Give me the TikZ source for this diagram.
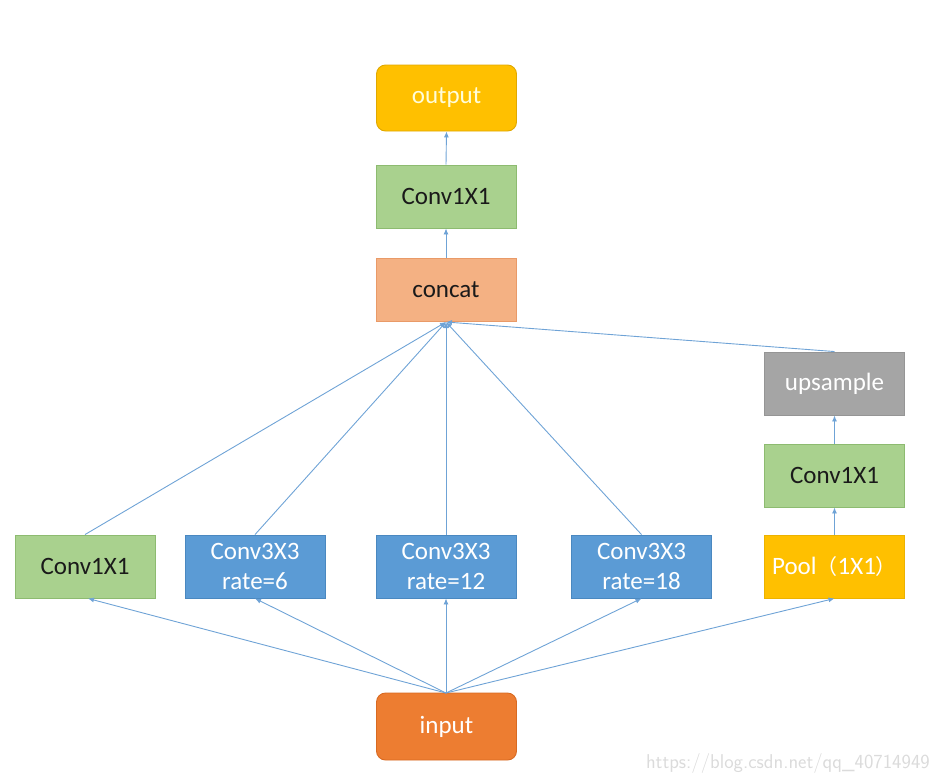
\documentclass[tikz,border=0pt]{standalone}
\usepackage{fontspec}
\setmainfont{Carlito}
\newfontfamily\cjkfont{Noto Sans CJK SC}
\usetikzlibrary{arrows.meta}
\definecolor{cgreen}{HTML}{A9D18E}
\definecolor{cgreenb}{HTML}{8DBB70}
\definecolor{cblue}{HTML}{5B9BD5}
\definecolor{cblueb}{HTML}{4A88C0}
\definecolor{csalmon}{HTML}{F4B183}
\definecolor{csalmonb}{HTML}{E99A68}
\definecolor{cyellow}{HTML}{FFC000}
\definecolor{cyellowb}{HTML}{E0A800}
\definecolor{cgray}{HTML}{A5A5A5}
\definecolor{cgrayb}{HTML}{959595}
\definecolor{corange}{HTML}{ED7D31}
\definecolor{corangeb}{HTML}{D86A22}
\definecolor{cline}{HTML}{6FA3D6}
\definecolor{ctext}{HTML}{1A1A1A}
\tikzset{
  box/.style={minimum width=140pt, minimum height=63pt, inner sep=0pt, line width=0.9pt, font=\fontsize{25}{30}\selectfont, align=center},
  gbox/.style={box, fill=cgreen, draw=cgreenb, text=ctext},
  bbox/.style={box, fill=cblue, draw=cblueb, text=white},
  sbox/.style={box, fill=csalmon, draw=csalmonb, text=ctext},
  ybox/.style={box, fill=cyellow, draw=cyellowb!60!cyellow, text=white},
  yrbox/.style={box, fill=cyellow, draw=cyellowb, text=white!85!yellow, rounded corners=9pt, minimum height=66pt},
  grbox/.style={box, fill=cgray, draw=cgrayb, text=white},
  obox/.style={box, fill=corange, draw=corangeb, text=white, rounded corners=9pt, minimum height=67pt},
  conn/.style={draw=cline, line width=0.9pt, -{Latex[length=6pt,width=5pt]}},
}
\begin{document}
\begin{tikzpicture}[x=1pt,y=-1pt]
\useasboundingbox (0,0) rectangle (934,772);
\node[yrbox] (out) at (446.5,98) {output};
\node[gbox] (c1top) at (446,196.5) {Conv1X1};
\node[sbox] (concat) at (446,290) {concat};
\node[grbox] (up) at (834.5,383.5) {upsample};
\node[gbox] (c1r) at (834.5,475.5) {Conv1X1};
\node[ybox] (pool) at (834.5,566.5) {Pool{\cjkfont\fontsize{21}{21}\selectfont （}1X1{\cjkfont\fontsize{21}{21}\selectfont ）}};
\node[gbox] (c1l) at (85,566.5) {Conv1X1};
\node[bbox] (r6) at (255,566.5) {Conv3X3\\rate=6};
\node[bbox] (r12) at (446,566.5) {Conv3X3\\rate=12};
\node[bbox] (r18) at (641.5,566.5) {Conv3X3\\rate=18};
\node[obox] (in) at (446.5,726.5) {input};
\node[anchor=base east, text=gray!28, font=\fontsize{20}{20}\selectfont\sffamily, inner sep=0pt] (wm) at (930,768) {https://blog.csdn.net/qq\_40714949};
% vertical arrows
\draw[conn] (concat.north) -- (c1top.south);
\draw[conn] (c1top.north) -- (out.south);
\draw[conn] (pool.north) -- (c1r.south);
\draw[conn] (c1r.north) -- (up.south);
% to concat
\coordinate (cc) at (446,322);
\draw[conn] (c1l.north) -- (cc);
\draw[conn] (r6.north) -- (cc);
\draw[conn] (r12.north) -- (cc);
\draw[conn] (r18.north) -- (cc);
\draw[conn] (up.north) -- (cc);
% from input
\coordinate (ic) at (446,693);
\draw[conn] (ic) -- ([xshift=3pt]c1l.south);
\draw[conn] (ic) -- (r6.south);
\draw[conn] (ic) -- (r12.south);
\draw[conn] (ic) -- (r18.south);
\draw[conn] (ic) -- (pool.south);
\end{tikzpicture}
\end{document}
